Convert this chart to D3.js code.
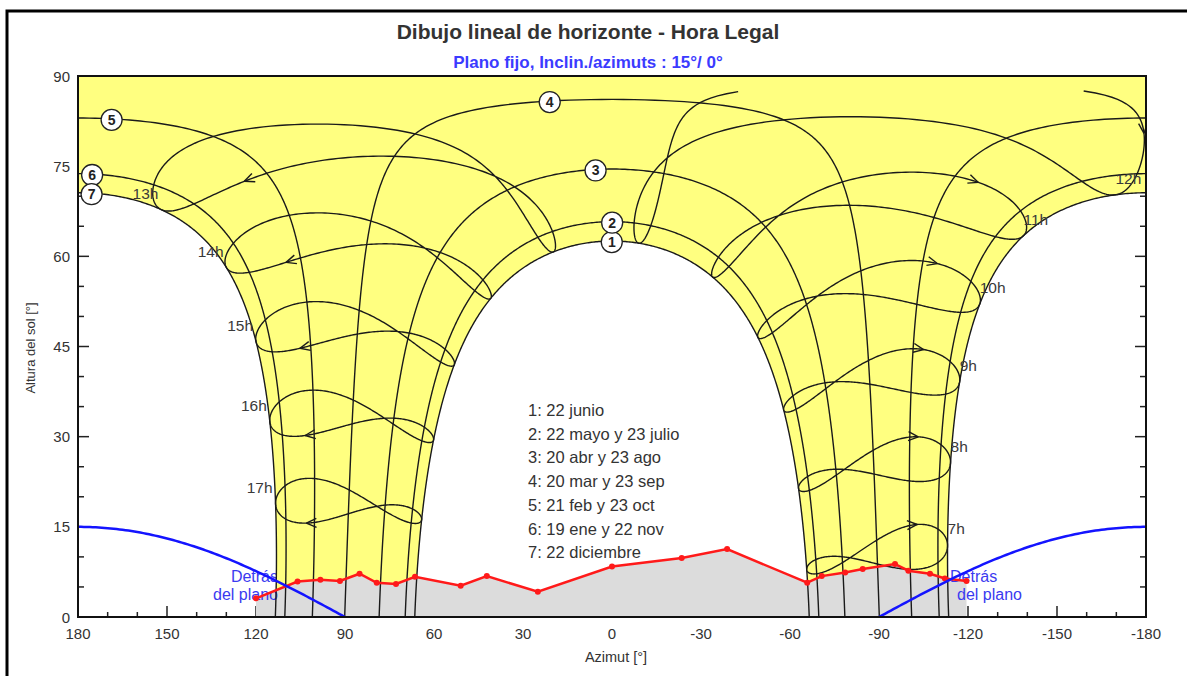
<!DOCTYPE html>
<html><head><meta charset="utf-8">
<script src="https://cdn.jsdelivr.net/npm/d3@7"></script>
<style>
body{margin:0;background:#fff;}
svg{display:block;}
text{font-family:"Liberation Sans",Arial,sans-serif;}
</style>
</head><body>
<svg width="1187" height="676"></svg>
<script>
// site and plane (legal time UTC-5)
const latitude = -4.0, longitude = -79.2, tzMeridian = -75;
const planeTilt = 15, planeAzim = 0;

const xTicks = [180,150,120,90,60,30,0,-30,-60,-90,-120,-150,-180];
const yTicks = [0,15,30,45,60,75,90];

const dateLegend = ["1: 22 junio","2: 22 mayo y 23 julio","3: 20 abr y 23 ago","4: 20 mar y 23 sep",
                    "5: 21 feb y 23 oct","6: 19 ene y 22 nov","7: 22 diciembre"];
const dateDays = [[173],[142,204],[110,235],[79,266],[52,296],[19,326],[356]];
const dateLabelAz = [0,0,5.7,20.6,168.5,175.3,175.3];

const hours = [7,8,9,10,11,12,13,14,15,16,17];
const arrowDay = 303;

// horizon profile
const horizonAz  = [120,106,98.3,91.7,85.1,79.3,72.8,66.4,51,42.2,25,0,-23.5,-38.8,-65.8,-70.7,-78.6,-84.5,-95.4,-99.9,-107.2,-112.2,-119.5];
const horizonAlt = [3.1,5.9,6.2,6.0,7.2,5.7,5.5,6.7,5.2,6.8,4.2,8.4,9.8,11.3,5.7,6.8,7.4,8.0,8.8,7.7,7.2,6.4,6.0];

const svg = d3.select("svg");
const x = d3.scaleLinear().domain([180,-180]).range([78,1146]);
const y = d3.scaleLinear().domain([0,90]).range([617,76]);
const rad = Math.PI/180, deg = 180/Math.PI;

function solar(doy, hr) {
  const g = 2*Math.PI/365*(doy-1+(hr-12)/24);
  const eot = 229.18*(0.000075+0.001868*Math.cos(g)-0.032077*Math.sin(g)-0.014615*Math.cos(2*g)-0.040849*Math.sin(2*g));
  const dec = (0.006918-0.399912*Math.cos(g)+0.070257*Math.sin(g)-0.006758*Math.cos(2*g)+0.000907*Math.sin(2*g)
              -0.002697*Math.cos(3*g)+0.00148*Math.sin(3*g))*deg;
  return {eot: eot, dec: dec};
}
function sunPos(dec, H) {
  const p = latitude*rad, d = dec*rad, h = H*rad;
  const alt = Math.asin(Math.sin(p)*Math.sin(d)+Math.cos(p)*Math.cos(d)*Math.cos(h))*deg;
  const As = Math.atan2(Math.sin(h), Math.cos(h)*Math.sin(p)-Math.tan(d)*Math.cos(p))*deg;
  let az = 180 - As; if (az > 180) az -= 360;
  return [az, alt];
}
function hourPos(doy, hr) {
  const s = solar(doy, hr);
  const H = (hr*60 + s.eot + 4*(longitude - tzMeridian))/4 - 180;
  return sunPos(s.dec, H);
}
// cut a polyline where it crosses az = +-180 (and where it jumps too far)
function splitWrap(pts, maxJump) {
  const segs = []; let cur = [pts[0]];
  for (let i = 1; i < pts.length; i++) {
    const a = pts[i-1], b = pts[i], dd = Math.abs(b[0]-a[0]);
    if (dd > 180 && (!maxJump || 360-dd <= maxJump)) {
      const s = b[0] > a[0] ? -360 : 360;
      cur.push([b[0]+s, b[1]]); segs.push(cur);
      cur = [[a[0]-s, a[1]], b];
    } else if (maxJump && Math.min(dd, 360-dd) > maxJump) {
      segs.push(cur); cur = [b];
    } else cur.push(b);
  }
  segs.push(cur); return segs.filter(s => s.length > 1);
}
const line = d3.line().x(d => x(d[0])).y(d => y(d[1]));

// outer frame
svg.append("rect").attr("x",7).attr("y",11).attr("width",1200).attr("height",700)
   .attr("fill","none").attr("stroke","#000").attr("stroke-width",3);

svg.append("text").attr("x",588).attr("y",39).attr("text-anchor","middle")
   .attr("font-size","21px").attr("font-weight","bold").attr("fill","#333")
   .text("Dibujo lineal de horizonte - Hora Legal");
svg.append("text").attr("x",588).attr("y",68).attr("text-anchor","middle")
   .attr("font-size","17px").attr("font-weight","bold").attr("fill","#3b3bff")
   .text("Plano fijo, Inclin./azimuts : 15°/ 0°");

const defs = svg.append("defs");
defs.append("clipPath").attr("id","plot").append("rect")
    .attr("x",78).attr("y",76).attr("width",1068).attr("height",541);
const above = [[180,0],[horizonAz[0],0]]
  .concat(horizonAz.map((a,i) => [a,horizonAlt[i]]))
  .concat([[horizonAz[horizonAz.length-1],0],[-180,0],[-180,90],[180,90]]);
defs.append("clipPath").attr("id","sky").append("path").attr("d", line(above)+"Z");

// ticks
const ticks = svg.append("g").attr("stroke","#222").attr("stroke-width",1.5);
d3.range(0,91,5).forEach(v => {
  const L = v % 15 === 0 ? 11 : 6;
  ticks.append("line").attr("x1",78).attr("x2",78+L).attr("y1",y(v)).attr("y2",y(v));
  ticks.append("line").attr("x1",1146).attr("x2",1146-L).attr("y1",y(v)).attr("y2",y(v));
});
d3.range(-180,181,10).forEach(v => {
  const L = v % 30 === 0 ? 11 : 5;
  ticks.append("line").attr("x1",x(v)).attr("x2",x(v)).attr("y1",617).attr("y2",617-L);
});

// horizon fill
const hz = horizonAz.map((a,i) => [a, horizonAlt[i]]);
svg.append("path").attr("d", line(hz.concat([[horizonAz[horizonAz.length-1],0],[horizonAz[0],0]]))+"Z")
   .attr("fill","#dcdcdc");

// behind-the-plane labels
const behind = svg.append("g").attr("font-size","16px").attr("fill","#3a3af0");
behind.append("text").attr("x",278).attr("y",582).attr("text-anchor","end").text("Detrás");
behind.append("text").attr("x",278).attr("y",600).attr("text-anchor","end").text("del plano");
behind.append("text").attr("x",950).attr("y",582).text("Detrás");
behind.append("text").attr("x",957).attr("y",600).text("del plano");

// declinations of the date curves
const decs = dateDays.map(ds => d3.mean(ds, d => solar(d,12).dec));
function dayCurve(dec, step, pad) {
  const H0 = Math.acos(-Math.tan(latitude*rad)*Math.tan(dec*rad))*deg;
  const pts = [];
  for (let H = -H0-pad; H <= H0+pad+1e-9; H += step) pts.push(sunPos(dec, Math.abs(H) < 1e-9 ? 1e-6 : H));
  return pts;
}

// sun area (between 22 June and 22 December)
const dDec = decs[6], dJun = decs[0];
const H7 = Math.acos(-Math.tan(latitude*rad)*Math.tan(dDec*rad))*deg;
const H1 = Math.acos(-Math.tan(latitude*rad)*Math.tan(dJun*rad))*deg;
const noon7 = sunPos(dDec, 0)[1];
let area = [];
for (let H = -H7; H < -0.01; H += 0.25) area.push(sunPos(dDec, H));
area.push([-180,noon7],[-180,90],[180,90],[180,noon7]);
for (let H = 0.25; H <= H7; H += 0.25) area.push(sunPos(dDec, H));
area.push(sunPos(dDec, H7));
for (let H = H1; H >= -H1; H -= 0.25) area.push(sunPos(dJun, H));
area.push(sunPos(dJun, -H1));
svg.append("g").attr("clip-path","url(#sky)").append("path")
   .attr("d", line(area)+"Z").attr("fill","#ffff80").attr("clip-path","url(#plot)");

// curves
const curves = svg.append("g").attr("clip-path","url(#plot)")
   .attr("fill","none").attr("stroke","#1a1a1a").attr("stroke-width",1.4);
decs.forEach(dec => {
  splitWrap(dayCurve(dec, 0.25, 3)).forEach(seg => curves.append("path").attr("d", line(seg)));
});
const tips = [];
hours.forEach(hr => {
  const pts = [];
  for (let d = 1; d <= 366; d += 1) pts.push(hourPos(d, hr));
  splitWrap(pts, 5).forEach(seg => curves.append("path").attr("d", line(seg)));
  // arrow
  const p0 = hourPos(arrowDay, hr), p1 = hourPos(arrowDay+1, hr);
  const sx = x(p0[0]), sy = y(p0[1]);
  let dx = x(p1[0]) - sx, dy = y(p1[1]) - sy; const n = Math.hypot(dx,dy) || 1; dx /= n; dy /= n;
  [-24,24].forEach(a => {
    const c = Math.cos(a*rad), s = Math.sin(a*rad);
    const bx = -(dx*c - dy*s), by = -(dx*s + dy*c);
    curves.append("line").attr("x1",sx).attr("y1",sy).attr("x2",sx+bx*11).attr("y2",sy+by*11);
  });
  tips.push(hourPos(356, hr));
});

// horizon line
svg.append("path").attr("d", line(hz)).attr("fill","none").attr("stroke","#ff1a1a").attr("stroke-width",2.5);
svg.append("g").selectAll("circle").data(hz).enter().append("circle")
   .attr("cx", d => x(d[0])).attr("cy", d => y(d[1])).attr("r",3).attr("fill","#ff1a1a");

// behind-the-plane boundary
const tp = Math.tan(planeTilt*rad);
const blueL = d3.range(180, 89.9, -1).map(a => [a, Math.max(0, Math.atan(-tp*Math.cos((a-planeAzim)*rad))*deg)]);
const blueR = d3.range(-90, -180.1, -1).map(a => [a, Math.max(0, Math.atan(-tp*Math.cos((a-planeAzim)*rad))*deg)]);
[blueL, blueR].forEach(b => svg.append("path").attr("d", line(b)).attr("fill","none")
   .attr("stroke","#1414ff").attr("stroke-width",2.5));

// date labels
decs.forEach((dec,i) => {
  const pts = dayCurve(dec, 0.1, 0);
  const p = pts.reduce((b,q) => Math.abs(q[0]-dateLabelAz[i]) < Math.abs(b[0]-dateLabelAz[i]) ? q : b);
  const g = svg.append("g").attr("transform", `translate(${x(p[0])},${y(p[1])+1})`);
  g.append("circle").attr("r",10.5).attr("fill","#fff").attr("stroke","#222").attr("stroke-width",1.3);
  g.append("text").attr("y",5).attr("text-anchor","middle").attr("font-size","14px")
   .attr("font-weight","bold").attr("fill","#222").text(i+1);
});

// hour labels
hours.forEach((hr,i) => {
  const p = tips[i], left = p[0] > 0;
  svg.append("text").attr("x", x(p[0]) + (left ? -3 : 0)).attr("y", y(p[1]) - 11)
     .attr("text-anchor", left ? "end" : "start").attr("font-size","15.5px").attr("fill","#3a3a3a")
     .text(hr + "h");
});

// legend
svg.append("g").selectAll("text").data(dateLegend).enter().append("text")
   .attr("x",528).attr("y",(d,i) => 416 + i*23.7).attr("font-size","16.5px").attr("fill","#333")
   .text(d => d);

// frame
svg.append("rect").attr("x",78).attr("y",76).attr("width",1068).attr("height",541)
   .attr("fill","none").attr("stroke","#111").attr("stroke-width",2);

// tick labels and axis titles
svg.append("g").selectAll("text").data(yTicks).enter().append("text")
   .attr("x",70).attr("y",d => y(d)+5.5).attr("text-anchor","end").attr("font-size","15px").attr("fill","#333")
   .text(d => d);
svg.append("g").selectAll("text").data(xTicks).enter().append("text")
   .attr("x",d => x(d)).attr("y",639).attr("text-anchor","middle").attr("font-size","15px").attr("fill","#333")
   .text(d => d);
svg.append("text").attr("x",616).attr("y",662).attr("text-anchor","middle").attr("font-size","14.5px")
   .attr("fill","#333").text("Azimut [°]");
svg.append("text").attr("transform","translate(35,348) rotate(-90)").attr("text-anchor","middle")
   .attr("font-size","13px").attr("fill","#333").text("Altura del sol [°]");
</script>
</body></html>
